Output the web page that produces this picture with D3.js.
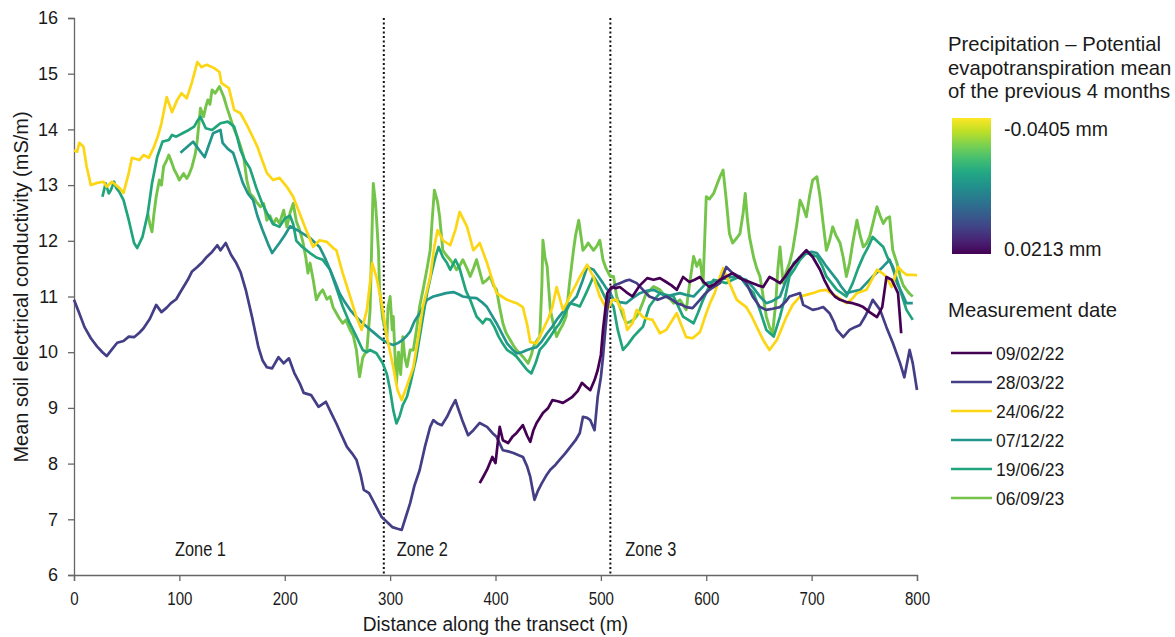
<!DOCTYPE html>
<html>
<head>
<meta charset="utf-8">
<script src="https://cdn.jsdelivr.net/npm/d3@7"></script>
<style>
  body { margin: 0; background: #fff; }
  text { font-family: "Liberation Sans", Arial, sans-serif; fill: #1a1a1a; }
</style>
</head>
<body>
<svg id="chart"></svg>
<script>
// Series names and colours (legend order)
const dates = ['09/02/22', '28/03/22', '24/06/22', '07/12/22', '19/06/23', '06/09/23']
const colors = ['#440154', '#433e85', '#fcd612', '#23968b', '#20a47c', '#74c44a']

// Axis ticks and zone info
const xTicks = [0, 100, 200, 300, 400, 500, 600, 700, 800]
const yTicks = [6, 7, 8, 9, 10, 11, 12, 13, 14, 15, 16]
const zoneBounds = [294, 509]
const zoneLabels = ['Zone 1', 'Zone 2', 'Zone 3']
const gradientLabels = ['-0.0405 mm', '0.0213 mm']

// [distance (m), conductivity (mS/m)]
const s0902 = [[385,7.65],[388,7.75],[392,7.89],[397,8.12],[400,8.01],[402,8.35],[404,8.66],[407,8.42],[412,8.37],[416,8.48],[420,8.55],[426,8.69],[430,8.5],[433,8.39],[436,8.6],[439,8.73],[445,8.91],[450,9.0],[454,9.14],[459,9.12],[464,9.09],[469,9.15],[473,9.2],[478,9.3],[482,9.45],[486,9.38],[490,9.32],[494,9.5],[497,9.68],[500,9.95],[502,10.4],[506,11.06],[510,11.17],[514,11.15],[518,11.17],[524,11.08],[530,11.0],[537,11.2],[544,11.33],[550,11.3],[556,11.33],[562,11.26],[567,11.2],[572,11.12],[578,11.35],[584,11.26],[589,11.3],[594,11.35],[598,11.25],[603,11.17],[608,11.22],[613,11.3],[619,11.36],[625,11.42],[630,11.35],[635,11.3],[640,11.27],[644,11.24],[649,11.2],[654,11.17],[660,11.35],[665,11.3],[670,11.24],[675,11.36],[679,11.48],[684,11.6],[689,11.71],[695,11.83],[701,11.71],[708,11.48],[712,11.3],[717,11.12],[722,11.0],[727,10.94],[733,10.9],[739,10.88],[744,10.85],[749,10.81],[755,10.72],[762,10.63],[767,10.81],[771,11.35],[776,11.3],[782,11.06],[785,10.34]]

const s2803 = [[0,10.94],[5,10.7],[10,10.45],[16,10.25],[22,10.1],[27,10.0],[31,9.93],[36,10.05],[41,10.17],[47,10.2],[52,10.28],[57,10.27],[62,10.35],[66,10.43],[72,10.6],[78,10.85],[83,10.72],[88,10.8],[92,10.88],[97,10.95],[101,11.08],[108,11.3],[112,11.45],[117,11.53],[122,11.62],[126,11.71],[131,11.8],[136,11.92],[139,11.83],[144,11.96],[149,11.75],[154,11.6],[158,11.44],[163,11.12],[169,10.63],[175,10.09],[179,9.85],[183,9.73],[188,9.71],[194,9.91],[199,9.8],[204,9.89],[209,9.63],[214,9.45],[218,9.27],[225,9.23],[232,9.02],[239,9.11],[244,8.91],[249,8.72],[253,8.55],[259,8.3],[264,8.18],[268,8.07],[272,7.8],[275,7.53],[280,7.47],[285,7.29],[292,7.04],[297,6.95],[302,6.86],[307,6.83],[311,6.81],[315,7.05],[319,7.29],[323,7.6],[328,7.88],[333,8.3],[338,8.66],[341,8.78],[345,8.72],[349,8.69],[354,8.84],[358,9.0],[362,9.14],[364,9.02],[369,8.75],[374,8.51],[379,8.6],[385,8.73],[392,8.66],[397,8.55],[401,8.48],[407,8.24],[412,8.22],[417,8.19],[422,8.15],[426,8.12],[430,7.95],[433,7.76],[437,7.35],[440,7.5],[444,7.65],[448,7.78],[452,7.89],[457,7.98],[461,8.07],[466,8.18],[471,8.3],[476,8.42],[480,8.55],[483,8.84],[487,8.82],[490,8.78],[494,8.6],[497,9.2],[500,9.55],[502,9.91],[504,10.35],[506,10.76],[509,11.12],[513,11.2],[518,11.24],[523,11.28],[527,11.3],[534,11.24],[540,11.12],[546,11.0],[554,10.94],[562,11.0],[567,10.95],[572,10.88],[577,10.85],[581,10.81],[587,10.79],[594,10.94],[598,11.03],[603,11.12],[608,11.18],[613,11.24],[619,11.53],[625,11.42],[632,11.35],[638,11.24],[644,11.0],[651,10.81],[657,10.76],[663,10.78],[670,10.81],[675,10.9],[679,11.0],[684,11.03],[689,11.06],[692,10.85],[697,10.8],[701,10.76],[706,10.78],[711,10.81],[717,10.7],[721,10.55],[724,10.4],[730,10.27],[736,10.4],[741,10.45],[746,10.49],[751,10.65],[755,10.81],[758,10.94],[765,10.76],[771,10.45],[777,10.17],[784,9.8],[788,9.55],[793,10.04],[796,9.8],[800,9.32]]

const s2406 = [[0,13.62],[3,13.6],[5,13.76],[9,13.69],[12,13.33],[16,13.0],[22,13.04],[28,13.06],[31,12.97],[36,13.06],[43,12.95],[47,12.86],[52,13.22],[55,13.49],[62,13.45],[66,13.54],[71,13.49],[76,13.69],[80,13.9],[83,14.11],[88,14.58],[93,14.31],[98,14.53],[102,14.65],[107,14.56],[112,14.85],[117,15.21],[121,15.12],[126,15.16],[133,15.1],[138,15.03],[140,14.83],[147,14.74],[152,14.35],[158,14.29],[164,14.08],[170,13.85],[174,13.69],[176,13.58],[183,13.22],[189,13.09],[195,13.13],[202,12.97],[208,12.79],[214,12.5],[221,12.16],[227,11.89],[233,12.01],[240,11.98],[246,11.87],[249,11.83],[255,11.42],[262,11.0],[268,10.63],[273,10.4],[278,10.76],[283,11.6],[287,11.35],[292,10.88],[297,10.27],[303,9.73],[307,9.32],[311,9.14],[316,9.4],[322,9.73],[327,10.3],[331,10.81],[338,11.35],[342,11.9],[345,12.19],[350,12.01],[357,11.92],[362,12.2],[366,12.52],[373,12.25],[379,11.83],[385,11.96],[392,11.6],[397,11.3],[401,11.06],[406,11.0],[411,10.94],[420,10.88],[426,10.81],[430,10.5],[433,10.18],[439,10.16],[445,10.4],[450,10.6],[454,10.81],[458,11.17],[464,10.76],[468,10.9],[472,11.06],[476,11.2],[480,11.35],[487,11.57],[493,11.35],[499,11.0],[506,10.76],[511,10.94],[515,10.94],[518,10.81],[521,10.76],[525,10.4],[530,10.52],[534,10.76],[540,10.63],[544,10.6],[549,10.58],[556,10.34],[562,10.4],[567,10.55],[572,10.7],[576,10.5],[581,10.27],[587,10.25],[594,10.36],[600,10.7],[604,10.9],[608,11.06],[612,11.3],[616,11.51],[622,11.24],[629,10.94],[638,10.81],[643,10.65],[648,10.45],[654,10.22],[660,10.04],[667,10.22],[671,10.4],[676,10.63],[682,10.85],[689,11.0],[695,11.03],[701,11.06],[707,11.1],[714,11.12],[719,11.05],[724,11.0],[733,10.88],[738,10.95],[743,11.06],[752,11.12],[757,11.3],[762,11.48],[767,11.42],[771,11.35],[776,11.17],[782,11.53],[786,11.45],[790,11.39],[796,11.39],[800,11.38]]

const s0712 = [[101,13.58],[107,13.68],[113,13.78],[118,13.65],[124,13.5],[128,13.72],[132,13.93],[139,13.99],[141,13.76],[146,13.65],[151,13.58],[155,13.35],[160,13.05],[165,12.85],[170,12.73],[174,12.45],[179,12.19],[184,11.95],[188,11.78],[195,11.96],[200,12.1],[205,12.26],[212,12.19],[218,12.12],[224,12.05],[233,11.89],[238,11.7],[243,11.48],[248,11.25],[252,11.06],[257,10.9],[262,10.76],[268,10.63],[274,10.52],[279,10.44],[284,10.36],[289,10.28],[293,10.22],[298,10.16],[303,10.13],[308,10.17],[312,10.22],[316,10.3],[319,10.37],[323,10.55],[328,10.7],[335,10.94],[341,11.0],[347,11.03],[353,11.06],[360,11.08],[365,11.04],[369,11.0],[376,10.98],[382,10.97],[387,10.9],[392,10.81],[396,10.68],[401,10.52],[406,10.34],[411,10.16],[416,10.05],[420,9.98],[425,10.0],[430,10.04],[435,10.07],[439,10.09],[444,10.2],[449,10.34],[454,10.46],[458,10.58],[463,10.7],[468,10.81],[472,10.9],[477,11.0],[482,11.25],[487,11.53],[493,11.48],[498,11.35],[502,11.24],[505,11.15],[509,11.06],[512,10.94],[518,10.9],[524,10.88],[530,10.97],[537,11.06],[543,11.1],[550,11.12],[556,11.06],[562,11.0],[568,11.03],[575,11.06],[581,11.03],[588,11.0],[594,11.12],[600,11.24],[607,11.27],[613,11.3],[619,11.33],[626,11.36],[632,11.33],[638,11.3],[645,11.15],[651,11.0],[657,10.88],[663,10.92],[670,11.0],[676,11.3],[683,11.6],[689,11.7],[695,11.78],[700,11.8],[705,11.78],[710,11.65],[714,11.54],[719,11.42],[724,11.3],[728,11.18],[733,11.06],[739,11.09],[746,11.12],[752,11.24],[758,11.36],[763,11.45],[768,11.54],[774,11.66],[778,11.45],[781,11.24],[786,11.05],[790,10.88],[796,10.88]]

const s1906 = [[27,12.79],[30,13.03],[33,12.85],[35,12.91],[38,13.06],[40,12.95],[43,12.88],[47,12.73],[52,12.37],[57,11.96],[60,11.87],[65,12.07],[70,12.49],[74,13.03],[79,13.51],[84,13.78],[90,13.81],[93,13.9],[97,13.87],[103,13.93],[109,13.99],[114,14.05],[117,14.15],[120,14.23],[125,14.02],[131,13.99],[135,14.05],[139,14.11],[146,14.14],[152,14.05],[155,13.85],[158,13.63],[162,13.45],[167,13.3],[173,12.95],[178,12.7],[183,12.5],[189,12.3],[195,12.25],[200,12.4],[205,12.45],[208,12.3],[211,12.0],[216,11.9],[224,11.78],[230,11.7],[236,11.66],[243,11.48],[249,11.15],[255,10.82],[261,10.55],[268,10.28],[274,10.04],[278,10.0],[281,10.04],[287,9.98],[293,9.8],[297,9.6],[300,9.32],[303,8.96],[306,8.72],[309,8.85],[312,9.05],[316,9.2],[320,9.5],[325,9.92],[330,10.5],[335,11.06],[339,11.4],[343,11.71],[346,11.89],[350,11.71],[354,11.6],[357,11.48],[362,11.66],[366,11.5],[369,11.3],[372,11.1],[376,10.94],[382,10.64],[388,10.52],[391,10.6],[395,10.58],[399,10.45],[403,10.28],[407,10.15],[411,10.04],[416,9.98],[420,9.92],[425,9.8],[430,9.68],[434,9.62],[438,9.8],[442,10.04],[447,10.15],[452,10.28],[456,10.4],[461,10.52],[466,10.7],[471,10.88],[476,10.85],[480,10.82],[486,11.06],[493,11.36],[499,11.18],[505,10.94],[509,10.9],[512,10.82],[516,10.4],[521,10.04],[526,10.15],[531,10.28],[536,10.38],[540,10.46],[546,10.82],[551,10.95],[556,11.06],[562,11.03],[569,11.0],[574,10.8],[578,10.64],[583,10.58],[588,10.52],[592,10.7],[597,10.94],[602,11.15],[607,11.3],[613,11.27],[619,11.24],[625,11.3],[632,11.36],[638,11.2],[645,11.06],[651,10.75],[657,10.4],[664,10.28],[670,10.64],[675,11.0],[679,11.36],[684,11.5],[689,11.66],[695,11.78],[705,11.72],[710,11.55],[714,11.36],[719,11.24],[724,11.12],[733,11.0],[739,11.24],[744,11.5],[749,11.72],[754,11.9],[758,12.07],[763,11.98],[768,11.89],[772,11.7],[777,11.54],[781,11.3],[784,11.12],[790,10.76],[796,10.58]]

const s0609 = [[70,12.49],[72,12.3],[74,12.16],[76,12.5],[78,12.79],[81,13.09],[83,13.0],[85,13.33],[88,13.45],[90,13.54],[93,13.39],[95,13.28],[97,13.21],[100,13.09],[102,13.15],[104,13.21],[107,13.12],[109,13.18],[112,13.33],[115,13.55],[117,13.81],[120,14.38],[123,14.23],[125,14.4],[127,14.53],[129,14.45],[131,14.71],[134,14.65],[138,14.77],[142,14.59],[145,14.4],[149,14.17],[152,14.0],[155,13.87],[158,13.7],[161,13.51],[164,13.09],[167,12.85],[170,12.79],[173,12.7],[177,12.61],[180,12.67],[183,12.37],[186,12.45],[189,12.3],[192,12.4],[195,12.31],[199,12.55],[202,12.25],[205,12.5],[208,12.67],[211,12.35],[214,12.2],[217,12.0],[220,11.7],[222,11.42],[224,11.6],[227,11.3],[230,10.94],[233,11.05],[236,11.12],[240,10.95],[243,11.0],[246,10.8],[249,10.7],[252,10.6],[255,10.52],[258,10.58],[262,10.4],[265,10.3],[268,10.04],[270,9.7],[271,9.56],[274,9.9],[278,10.04],[281,10.76],[283,12.3],[284,13.03],[286,12.7],[287,12.43],[289,11.8],[290,11.12],[293,10.6],[297,10.28],[298,10.8],[300,11.0],[302,10.4],[303,10.64],[305,9.8],[306,9.44],[308,10.0],[310,9.6],[312,10.28],[314,9.9],[316,9.74],[319,10.04],[322,10.04],[325,10.4],[328,10.82],[331,11.1],[335,11.5],[338,11.83],[340,12.4],[342,12.91],[345,12.7],[347,12.43],[350,11.83],[353,11.75],[357,11.66],[360,11.58],[363,11.48],[366,11.55],[369,11.66],[373,11.5],[376,11.36],[379,11.5],[382,11.66],[385,11.45],[388,11.24],[392,11.3],[395,11.36],[398,11.2],[401,11.12],[404,10.8],[407,10.52],[410,10.35],[414,10.22],[417,10.12],[420,10.04],[423,9.98],[426,9.92],[429,9.85],[431,9.8],[434,9.95],[436,10.1],[439,10.2],[442,10.28],[444,11.2],[445,12.01],[447,11.7],[449,11.54],[452,10.76],[455,10.5],[458,10.28],[461,10.4],[464,10.5],[467,10.64],[470,11.2],[474,11.83],[476,12.1],[479,12.37],[481,12.1],[483,11.83],[486,11.9],[488,11.96],[491,11.88],[493,11.83],[496,11.9],[499,12.01],[502,11.66],[505,11.5],[509,11.36],[512,11.36],[515,11.0],[518,10.82],[521,10.65],[524,10.52],[528,10.55],[531,10.58],[534,10.65],[537,10.76],[540,10.9],[543,11.06],[547,11.12],[550,11.18],[553,11.15],[556,11.12],[559,11.05],[562,11.0],[566,10.95],[569,10.88],[572,10.9],[575,10.94],[578,10.85],[581,10.76],[584,11.2],[588,11.72],[591,11.54],[594,11.66],[597,11.24],[600,12.79],[603,12.75],[607,12.85],[610,13.0],[613,13.15],[616,13.27],[619,12.73],[622,12.13],[625,11.96],[629,12.05],[632,12.13],[635,12.5],[637,12.85],[639,12.4],[641,12.07],[645,11.7],[648,11.5],[651,11.36],[654,11.0],[657,10.64],[660,10.45],[663,10.34],[666,10.9],[668,11.5],[670,11.89],[673,11.24],[676,11.45],[679,11.6],[682,11.83],[686,12.3],[689,12.73],[692,12.6],[695,12.43],[698,12.8],[701,13.09],[705,13.15],[708,12.79],[711,12.3],[714,11.83],[717,12.0],[720,12.25],[723,12.1],[727,11.96],[730,11.7],[733,11.36],[736,11.6],[739,11.96],[743,12.37],[746,12.1],[749,11.89],[752,11.95],[755,12.07],[758,12.3],[762,12.61],[765,12.45],[768,12.31],[771,12.4],[774,12.43],[777,11.83],[781,11.6],[784,11.36],[787,11.2],[790,11.12],[793,11.05],[796,11.0]]

const seriesData = [s0902, s2803, s2406, s0712, s1906, s0609]
// back to front drawing order (indices into dates)
const drawOrder = [5, 4, 3, 2, 1, 0]

const width = 1175, height = 637
const margin = {left: 74, right: 258, top: 18, bottom: 62}
// the x-axis text in the figure is condensed, squeeze it horizontally
const squeeze = 'scale(0.84,1)'

const svg = d3.select('#chart')
    .attr('width', width)
    .attr('height', height)

const x = d3.scaleLinear().domain([0, 800]).range([margin.left, width - margin.right])
const y = d3.scaleLinear().domain([6, 16]).range([height - margin.bottom, margin.top])

// Axes
const xAxis = svg.append('g')
    .attr('transform', `translate(0,${y(6)})`)
    .call(d3.axisBottom(x).tickValues(xTicks).tickSize(6).tickPadding(11))
xAxis.selectAll('text')
    .style('font-size', '18px')
    .attr('transform', squeeze)

const yAxis = svg.append('g')
    .attr('transform', `translate(${x(0)},0)`)
    .call(d3.axisLeft(y).tickValues(yTicks).tickSize(6).tickPadding(10))
yAxis.selectAll('text').style('font-size', '18px')

svg.selectAll('.domain, .tick line').attr('stroke', '#666').attr('stroke-width', 1.3)
svg.selectAll('.tick text').attr('fill', '#1a1a1a').style('font-family', null)

// Zone separators
svg.append('g').selectAll('line')
    .data(zoneBounds)
    .join('line')
        .attr('x1', d => x(d)).attr('x2', d => x(d))
        .attr('y1', y(16)).attr('y2', y(6))
        .attr('stroke', '#111')
        .attr('stroke-width', 2)
        .attr('stroke-dasharray', '2,2.5')

// Zone labels
const zoneX = [x(120), x(zoneBounds[0]) + 13, x(zoneBounds[1]) + 15]
svg.append('g').selectAll('g')
    .data(zoneLabels)
    .join('g')
        .attr('transform', (d, i) => `translate(${zoneX[i]},556)`)
    .append('text')
        .attr('transform', squeeze)
        .attr('text-anchor', (d, i) => i === 0 ? 'middle' : 'start')
        .style('font-size', '19.5px')
        .text(d => d)

// Lines
const line = d3.line().x(d => x(d[0])).y(d => y(d[1]))
svg.append('g').selectAll('path')
    .data(drawOrder)
    .join('path')
        .attr('d', i => line(seriesData[i]))
        .attr('fill', 'none')
        .attr('stroke', i => colors[i])
        .attr('stroke-width', i => i === 5 ? 2.9 : 2.7)
        .attr('stroke-linejoin', 'round')

// Axis titles
svg.append('g')
    .attr('transform', `translate(${(x(0) + x(800)) / 2},631)`)
  .append('text')
    .attr('transform', 'scale(0.91,1)')
    .attr('text-anchor', 'middle')
    .style('font-size', '21px')
    .text('Distance along the transect (m)')

svg.append('text')
    .attr('transform', 'translate(28,287) rotate(-90)')
    .attr('text-anchor', 'middle')
    .style('font-size', '20px')
    .text('Mean soil electrical conductivity (mS/m)')

// Colour scale legend
const legend = svg.append('g')
const titleLines = ['Precipitation \u2013 Potential', 'evapotranspiration mean', 'of the previous 4 months']
legend.selectAll('text.title')
    .data(titleLines)
    .join('text')
        .attr('class', 'title')
        .attr('x', 948)
        .attr('y', (d, i) => 51 + i * 23.5)
        .style('font-size', '20.3px')
        .text(d => d)

const grad = svg.append('defs').append('linearGradient')
    .attr('id', 'viridis')
    .attr('x1', 0).attr('y1', 1).attr('x2', 0).attr('y2', 0)
grad.selectAll('stop')
    .data(d3.range(0, 1.01, 0.1))
    .join('stop')
        .attr('offset', d => d)
        .attr('stop-color', d => d3.interpolateViridis(d))

legend.append('rect')
    .attr('x', 952).attr('y', 118)
    .attr('width', 39).attr('height', 136)
    .attr('fill', 'url(#viridis)')

legend.selectAll('text.grad')
    .data(gradientLabels)
    .join('text')
        .attr('class', 'grad')
        .attr('x', 1004)
        .attr('y', (d, i) => i === 0 ? 136 : 256)
        .style('font-size', '19.5px')
        .text(d => d)

legend.append('text')
    .attr('x', 948).attr('y', 317)
    .style('font-size', '20.3px')
    .text('Measurement date')

const items = legend.selectAll('g.item')
    .data(dates)
    .join('g')
        .attr('class', 'item')
        .attr('transform', (d, i) => `translate(0,${353 + i * 29})`)
items.append('line')
    .attr('x1', 951).attr('x2', 992)
    .attr('stroke', (d, i) => colors[i])
    .attr('stroke-width', 2.5)
items.append('text')
    .attr('x', 996).attr('y', 7)
    .style('font-size', '17.5px')
    .text(d => d)
</script>
</body>
</html>
